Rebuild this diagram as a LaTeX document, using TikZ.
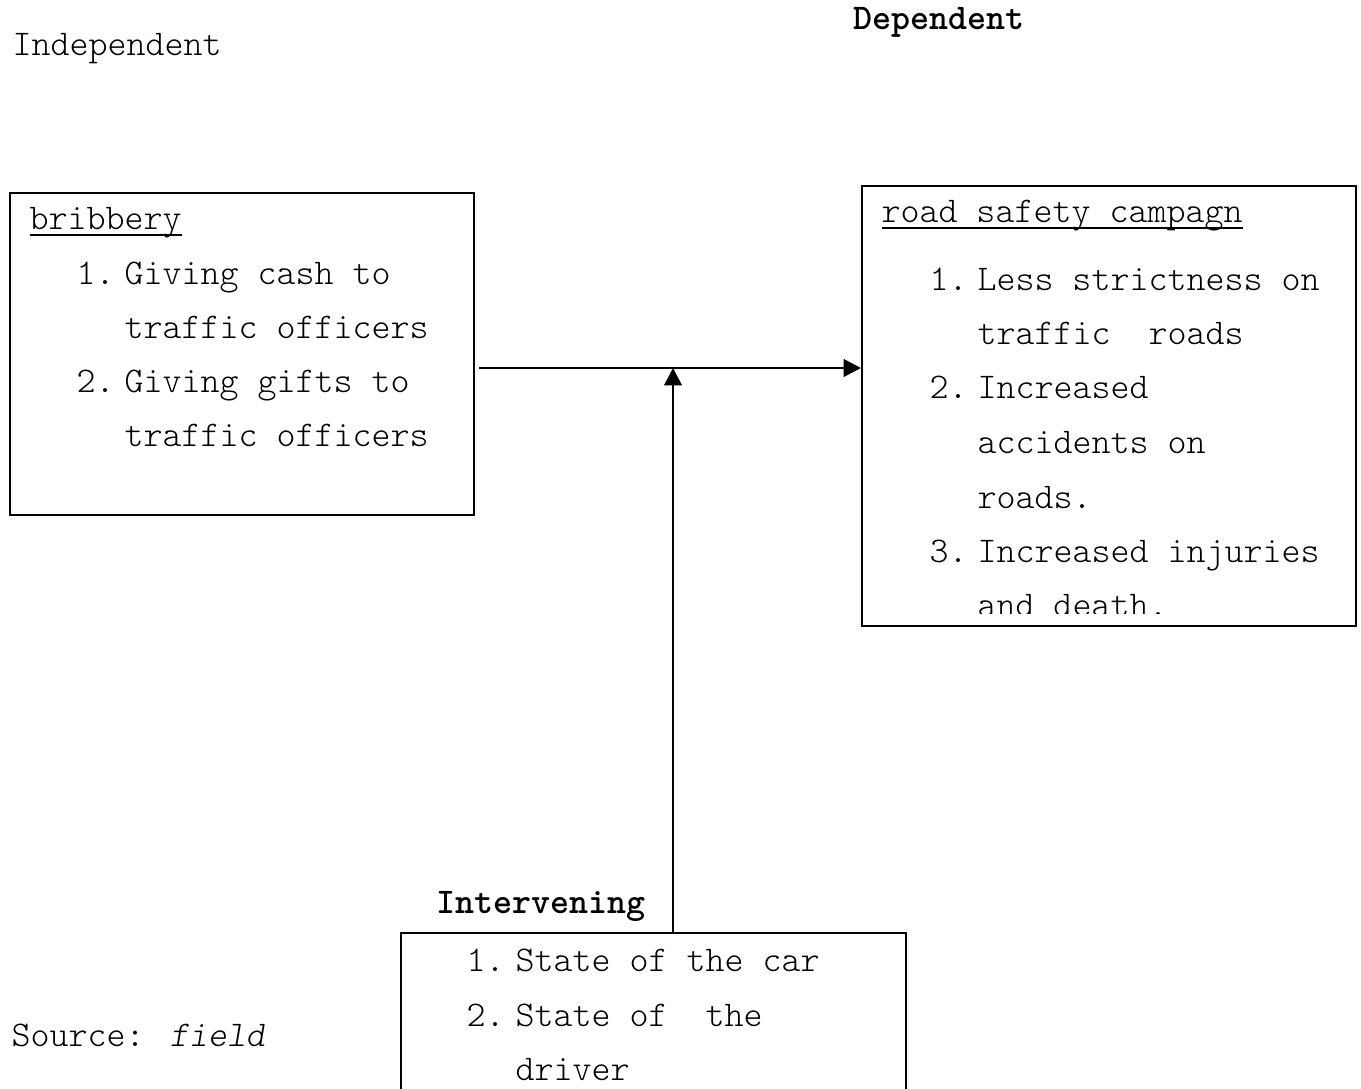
\documentclass[tikz,border=0pt]{standalone}
\usepackage{tikz}
\usetikzlibrary{arrows.meta}

\newcommand{\ulword}[1]{\setbox0\hbox{#1}\rlap{\rule[-2.7pt]{\wd0}{0.75pt}}\box0}

\begin{document}
\begin{tikzpicture}[x=0.375pt, y=-0.375pt,
    every node/.style={font=\ttfamily\fontseries{l}\fontsize{13.57}{16}\selectfont},
    box/.style={draw, line width=0.75pt, rectangle, anchor=north west, inner sep=0pt},
    txt/.style={anchor=base west, inner sep=0pt},
    conn/.style={line width=1.1pt, -{Triangle[length=6.5pt,width=6.5pt]}}]

  \useasboundingbox (0,0) rectangle (1361,1089);

  % headings
  \node[txt] (indep) at (12,55) {Independent};
  \node[txt] (dep) at (853,29) {\fontseries{b}\selectfont Dependent};
  \node[txt] (interv) at (436,913) {\fontseries{b}\selectfont Intervening};
  \node[txt] (source) at (11,1046) {Source: {\slshape field}};

  % boxes
  \node[box, minimum width=174pt, minimum height=120.75pt] (bribe) at (9,192) {};
  \node[box, minimum width=185.25pt, minimum height=165pt] (campaign) at (861,185) {};
  \node[box, minimum width=189.4pt, minimum height=70pt] (state) at (400,932) {};

  % independent variable
  \node[txt] (bribe title) at (29,229) {\ulword{bribbery}};
  \node[txt] (b1) at (76,284) {1.};
  \node[txt] (b1a) at (124,284) {Giving cash to};
  \node[txt] (b1b) at (124,338) {traffic officers};
  \node[txt] (b2) at (76,392) {2.};
  \node[txt] (b2a) at (124,392) {Giving gifts to};
  \node[txt] (b2b) at (124,446) {traffic officers};

  % dependent variable
  \begin{scope}
    \clip (861,185) rectangle (1355,613);
    \node[txt] (camp title) at (881,222) {\ulword{road safety campagn}};
    \node[txt] (c1) at (929,290) {1.};
    \node[txt] (c1a) at (977,290) {Less strictness on};
    \node[txt] (c1b) at (977,344) {traffic\ \ roads};
    \node[txt] (c2) at (929,398) {2.};
    \node[txt] (c2a) at (977,398) {Increased};
    \node[txt] (c2b) at (977,453) {accidents on};
    \node[txt] (c2c) at (977,508) {roads.};
    \node[txt] (c3) at (929,562) {3.};
    \node[txt] (c3a) at (977,562) {Increased injuries};
    \node[txt] (c3b) at (977,616) {and death.};
  \end{scope}

  % intervening variable
  \node[txt] (s1) at (466,971) {1.};
  \node[txt] (s1a) at (515,971) {State of the car};
  \node[txt] (s2) at (466,1026) {2.};
  \node[txt] (s2a) at (515,1026) {State of\ \ the};
  \node[txt] (s2b) at (515,1080) {driver};

  % connectors
  \coordinate (join) at (673,368);
  \draw[conn, shorten <=1.5pt] (bribe.east |- join) -- (campaign.west |- join);
  \draw[conn] (join |- state.north) -- (join);
\end{tikzpicture}
\end{document}
